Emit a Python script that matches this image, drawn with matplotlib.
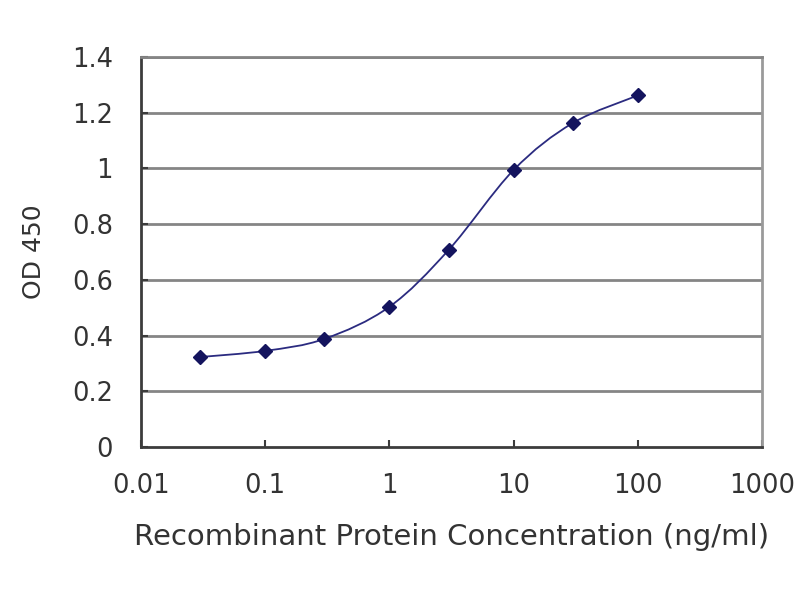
import matplotlib
matplotlib.use("Agg")
import matplotlib.pyplot as plt
import numpy as np
from matplotlib.path import Path
from matplotlib.patches import PathPatch

conc = [0.03, 0.1, 0.3, 1, 3, 10, 30, 100]
od = [0.323, 0.345, 0.388, 0.503, 0.707, 0.994, 1.163, 1.262]
xticks = [0.01, 0.1, 1, 10, 100, 1000]
xticklabels = ["0.01", "0.1", "1", "10", "100", "1000"]
yticks = [0, 0.2, 0.4, 0.6, 0.8, 1, 1.2, 1.4]
yticklabels = ["0", "0.2", "0.4", "0.6", "0.8", "1", "1.2", "1.4"]

plt.rcParams['font.family'] = ['DejaVu Sans']
fig = plt.figure(figsize=(8, 6), dpi=100)
ax = fig.add_axes([0.176, 0.255, 0.7765, 0.65])
ax.set_xscale('log')
ax.set_xlim(0.01, 1000)
ax.set_ylim(0, 1.4)

for y in yticks[1:]:
    ax.axhline(y, color='#858585', lw=2, zorder=1)

# smooth curve (Catmull-Rom-like Bezier in display space)
disp = ax.transData.transform(np.column_stack([conc, od]))
n = len(disp)
verts = [disp[0]]
codes = [Path.MOVETO]
t = 1/6
for i in range(n - 1):
    p0 = disp[i - 1] if i > 0 else disp[i]
    p1 = disp[i]
    p2 = disp[i + 1]
    p3 = disp[i + 2] if i + 2 < n else disp[i + 1]
    c1 = p1 + (p2 - p0) * t
    c2 = p2 - (p3 - p1) * t
    verts += [c1, c2, p2]
    codes += [Path.CURVE4] * 3
path = Path(verts, codes)
patch = PathPatch(path, facecolor='none', edgecolor='#2b2b80', lw=1.3,
                  transform=None, zorder=3)
ax.add_artist(patch)
ax.plot(conc, od, linestyle='none', marker='D', ms=7.5, color='#14145e', zorder=4)

for s in ['left', 'bottom']:
    ax.spines[s].set_color('#3c3c3c')
    ax.spines[s].set_linewidth(2)
ax.spines['right'].set_color('#9a9a9a')
ax.spines['right'].set_linewidth(2)
ax.spines['top'].set_color('#858585')
ax.spines['top'].set_linewidth(2)

ax.set_xticks(xticks)
ax.set_xticklabels(xticklabels)
ax.xaxis.set_minor_locator(matplotlib.ticker.NullLocator())
ax.set_yticks(yticks)
ax.set_yticklabels(yticklabels)
ax.tick_params(axis='both', direction='in', length=5, width=1.5, color='#3c3c3c',
               labelsize=18.5, labelcolor='#333333')
ax.tick_params(axis='x', pad=19)
ax.tick_params(axis='y', pad=20)
ax.set_xlabel('Recombinant Protein Concentration (ng/ml)', fontsize=21, color='#333333', labelpad=17)
ax.set_ylabel('OD 450', fontsize=18, color='#333333')
ax.yaxis.set_label_coords(-0.153, 0.5)

fig.savefig('out.png', dpi=100)
